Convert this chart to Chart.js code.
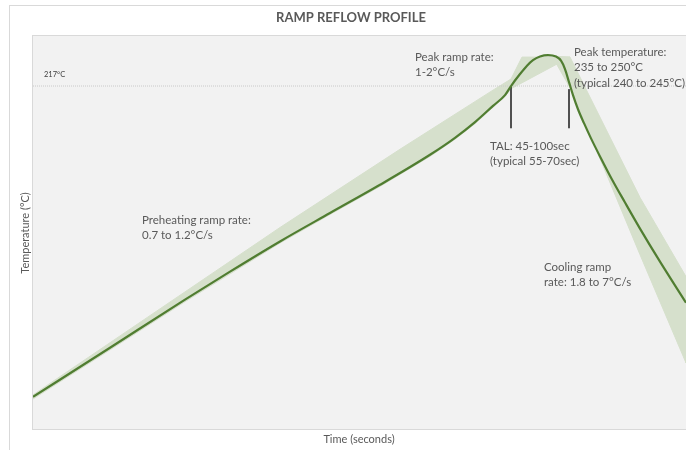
<!DOCTYPE html>
<html>
<head>
<meta charset="utf-8">
<title>Ramp reflow profile</title>
<script src="https://cdn.jsdelivr.net/npm/chart.js@4.4.1/dist/chart.umd.min.js"></script>
<style>
    html, body { margin: 0; padding: 0; background: #fff; }
    #reflowChart { display: block; }
</style>
</head>
<body>
<canvas id="reflowChart" width="686" height="450"></canvas>
<script>
// profile curve, time in seconds and temperature in °C
const timeSec = [0, 38.5, 76, 98.5, 123.5, 148.5, 173.5, 198.5, 211, 221, 230, 236, 239, 243.5, 247, 250, 253.5, 257.5, 261.5, 264, 266, 268, 270, 272.5, 275.5, 279, 283.5, 289.5, 296, 303.5, 313.5, 326.5];
const tempC = [43.0, 70.5, 97.4, 113.1, 130.0, 145.9, 161.7, 178.5, 188.0, 196.8, 205.9, 211.9, 217, 223.7, 228.4, 231.5, 233.5, 234.3, 233.5, 231.2, 226.5, 219.2, 211.9, 204.0, 196.2, 187.7, 177.6, 164.7, 151.8, 137.2, 118.7, 95.7];

// shaded window for preheat + peak ramp (closed outline)
const bandRampX = [0, 123.5, 183.5, 230, 239, 244.5, 268.5, 239, 236, 230, 221, 211, 198.5, 173.5, 148.5, 123.5, 76, 38.5, 0, 0];
const bandRampT = [44.1, 137.8, 181.6, 214.7, 220.9, 233.2, 233.2, 215.5, 211.1, 205.1, 195.9, 187.2, 177.6, 160.8, 145.1, 129.1, 96.3, 69.3, 41.8, 44.1];

// shaded window for cooling
const bandCoolX = [259.5, 268.5, 303.5, 326.5, 326.5, 303.5, 269.5, 259.5];
const bandCoolT = [233.8, 233.2, 154.6, 110.3, 62.0, 122.6, 214.1, 233.8];

// liquidus and time above liquidus markers
const liquidus = 217;
const talTimes = [239, 268];
const talTop = [216.5, 215.2];
const talBottom = 193.4;

const timeMax = 326.5;
const tempMin = 25;
const tempMax = 245;

function toPoints(xs, ys) {
    const pts = [];
    for (let i = 0; i < xs.length; i++) {
        pts.push({ x: xs[i], y: ys[i] });
    }
    return pts;
}

// background, frame and all the text labels
const framePlugin = {
    id: 'framePlugin',
    beforeDraw(chart) {
        const ctx = chart.ctx;
        const a = chart.chartArea;
        ctx.save();
        ctx.fillStyle = '#ffffff';
        ctx.fillRect(0, 0, chart.width, chart.height);
        ctx.strokeStyle = '#d9d9d9';
        ctx.lineWidth = 1;
        ctx.strokeRect(9.5, 5.5, chart.width + 20, chart.height + 20);
        ctx.fillStyle = '#f2f2f2';
        ctx.fillRect(a.left, a.top, a.right - a.left, a.bottom - a.top);
        ctx.strokeStyle = '#d9d9d9';
        ctx.strokeRect(a.left - 0.5, a.top - 0.5, a.right - a.left + 1, a.bottom - a.top + 1);
        ctx.restore();
    },
    afterDraw(chart) {
        const ctx = chart.ctx;
        ctx.save();
        ctx.fillStyle = '#595959';
        ctx.textBaseline = 'middle';

        // title
        ctx.font = 'bold 13px Lato';
        ctx.textAlign = 'center';
        ctx.fillText('RAMP REFLOW PROFILE', 351, 18);

        // axis titles
        ctx.font = '11px Lato';
        ctx.fillText('Time (seconds)', 359, 439);
        ctx.save();
        ctx.translate(25, 233);
        ctx.rotate(-Math.PI / 2);
        ctx.fillText('Temperature (°C)', 0, 0);
        ctx.restore();

        // notes
        ctx.textAlign = 'left';
        ctx.font = '11.5px Lato';
        const notes = [
            { x: 415, y: 57, lines: ['Peak ramp rate:', '1-2°C/s'] },
            { x: 574, y: 52, lines: ['Peak temperature:', '235 to 250°C', '(typical 240 to 245°C)'] },
            { x: 490, y: 146, lines: ['TAL: 45-100sec', '(typical 55-70sec)'] },
            { x: 142, y: 220, lines: ['Preheating ramp rate:', '0.7 to 1.2°C/s'] },
            { x: 544, y: 267, lines: ['Cooling ramp', 'rate: 1.8 to 7°C/s'] }
        ];
        notes.forEach(n => {
            n.lines.forEach((t, i) => ctx.fillText(t, n.x, n.y + i * 15.5));
        });

        ctx.fillStyle = '#404040';
        ctx.font = '7.5px Lato';
        ctx.fillText(liquidus + '°C', 44, 75);
        ctx.restore();
    }
};

const ctx = document.getElementById('reflowChart').getContext('2d');
const reflowChart = new Chart(ctx, {
    type: 'line',
    data: {
        datasets: [
            {
                label: 'profile',
                data: toPoints(timeSec, tempC),
                borderColor: '#507d31',
                borderWidth: 2.2,
                pointRadius: 0,
                cubicInterpolationMode: 'monotone',
                fill: false,
                order: 1
            },
            {
                label: 'TAL start',
                data: toPoints([talTimes[0], talTimes[0]], [talTop[0], talBottom]),
                borderColor: '#3a3a3a',
                borderWidth: 1,
                pointRadius: 0,
                fill: false,
                order: 2
            },
            {
                label: 'TAL end',
                data: toPoints([talTimes[1], talTimes[1]], [talTop[1], talBottom]),
                borderColor: '#3a3a3a',
                borderWidth: 1,
                pointRadius: 0,
                fill: false,
                order: 2
            },
            {
                label: 'liquidus',
                data: toPoints([0, timeMax], [liquidus, liquidus]),
                borderColor: '#c9c9c9',
                borderWidth: 1,
                borderDash: [1, 1],
                pointRadius: 0,
                fill: false,
                order: 3
            },
            {
                label: 'ramp window',
                data: toPoints(bandRampX, bandRampT),
                borderColor: '#d6e0cc',
                backgroundColor: '#d6e0cc',
                borderWidth: 1,
                pointRadius: 0,
                tension: 0,
                fill: 'shape',
                order: 4
            },
            {
                label: 'cooling window',
                data: toPoints(bandCoolX, bandCoolT),
                borderColor: '#d6e0cc',
                backgroundColor: '#d6e0cc',
                borderWidth: 1,
                pointRadius: 0,
                tension: 0,
                fill: 'shape',
                order: 4
            }
        ]
    },
    options: {
        responsive: false,
        animation: false,
        layout: {
            padding: { left: 33, top: 36, right: 0, bottom: 21 }
        },
        scales: {
            x: { type: 'linear', min: 0, max: timeMax, display: false },
            y: { type: 'linear', min: tempMin, max: tempMax, display: false }
        },
        plugins: {
            legend: { display: false },
            tooltip: { enabled: false },
            title: { display: false }
        }
    },
    plugins: [framePlugin]
});
</script>
</body>
</html>
